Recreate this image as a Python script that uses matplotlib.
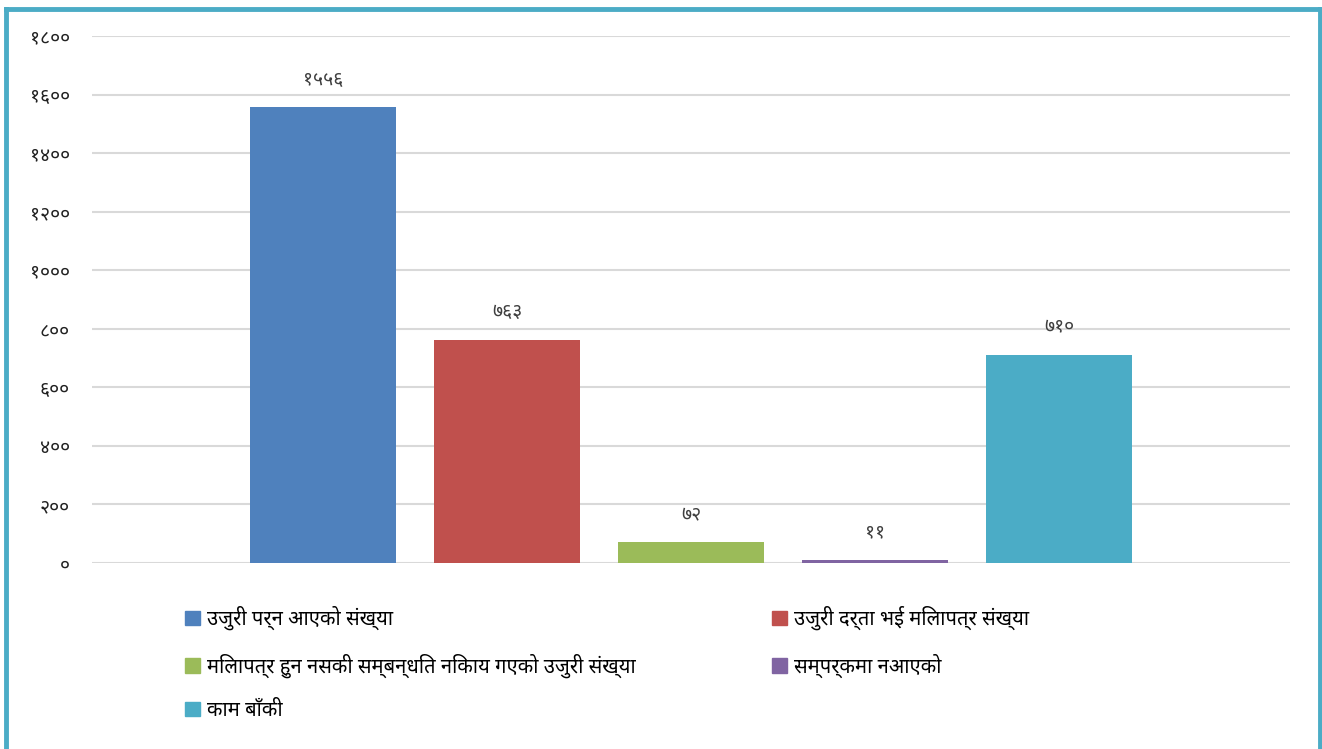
import numpy as np
import matplotlib

matplotlib.use("Agg")
import matplotlib.pyplot as plt
from matplotlib import font_manager
from matplotlib.lines import Line2D
from matplotlib.patches import Patch

# --- data ---
categories = [
    "उजुरी पर्न आएको संख्या",
    "उजुरी दर्ता भई मिलापत्र संख्या",
    "मिलापत्र हुन नसकी सम्बन्धित निकाय गएको उजुरी संख्या",
    "सम्पर्कमा नआएको",
    "काम बाँकी",
]
values = [1556, 763, 72, 11, 710]
yticks = [0, 200, 400, 600, 800, 1000, 1200, 1400, 1600, 1800]
colors = ["#4F81BD", "#C0504D", "#9BBB59", "#8064A2", "#4BACC6"]

NEP_DIGITS = str.maketrans("0123456789", "०१२३४५६७८९")


def nep(n):
    return str(n).translate(NEP_DIGITS)


# pick one Devanagari family that is installed
installed = {f.name for f in font_manager.fontManager.ttflist}
deva = "FreeSans"
for name in ["Noto Sans Devanagari", "Hind", "Mukta", "FreeSans"]:
    if name in installed:
        deva = name
        break
plt.rcParams["font.family"] = [deva, "DejaVu Sans"]

fig = plt.figure(figsize=(13.22, 7.49), dpi=100)
ax = fig.add_axes([0.0696, 0.2483, 0.9062, 0.7037])

x = np.arange(len(values))
ax.bar(x, values, width=0.793, color=colors, zorder=3)
for xi, v in zip(x, values):
    ax.text(xi, v + 95, nep(v), ha="center", va="center",
            fontsize=14, color="#404040")

ax.set_xlim(-1.255, 5.255)
ax.set_ylim(0, 1800)
ax.set_yticks(yticks)
ax.set_yticklabels([nep(t) for t in yticks], fontsize=14, color="#222222")
ax.set_xticks([])
ax.tick_params(axis="y", length=0, pad=16)
ax.grid(axis="y", color="#D9D9D9", linewidth=1.5, zorder=0)
for s in ax.spines.values():
    s.set_visible(False)

# legend: two columns placed like the original
handles = [Patch(color=c) for c in colors]
leg_kw = dict(loc="upper left", frameon=False, fontsize=14.5,
              handlelength=0.75, handleheight=0.75, handletextpad=0.35,
              labelspacing=1.15, borderpad=0, borderaxespad=0)
fig.legend([handles[i] for i in (0, 2, 4)], [categories[i] for i in (0, 2, 4)],
           bbox_to_anchor=(185 / 1322, 1 - 606 / 749), **leg_kw)
fig.legend([handles[i] for i in (1, 3)], [categories[i] for i in (1, 3)],
           bbox_to_anchor=(772 / 1322, 1 - 606 / 749), **leg_kw)

# teal frame (left, top, right)
frame = "#4BACC6"
fig.add_artist(Line2D([6 / 1322, 6 / 1322], [0, 1 - 9 / 749],
                      transform=fig.transFigure, color=frame, lw=3.5))
fig.add_artist(Line2D([6 / 1322, 1320 / 1322], [1 - 9 / 749, 1 - 9 / 749],
                      transform=fig.transFigure, color=frame, lw=3.5))
fig.add_artist(Line2D([1320 / 1322, 1320 / 1322], [0, 1 - 9 / 749],
                      transform=fig.transFigure, color=frame, lw=3.5))

fig.savefig("out.png", dpi=100)
